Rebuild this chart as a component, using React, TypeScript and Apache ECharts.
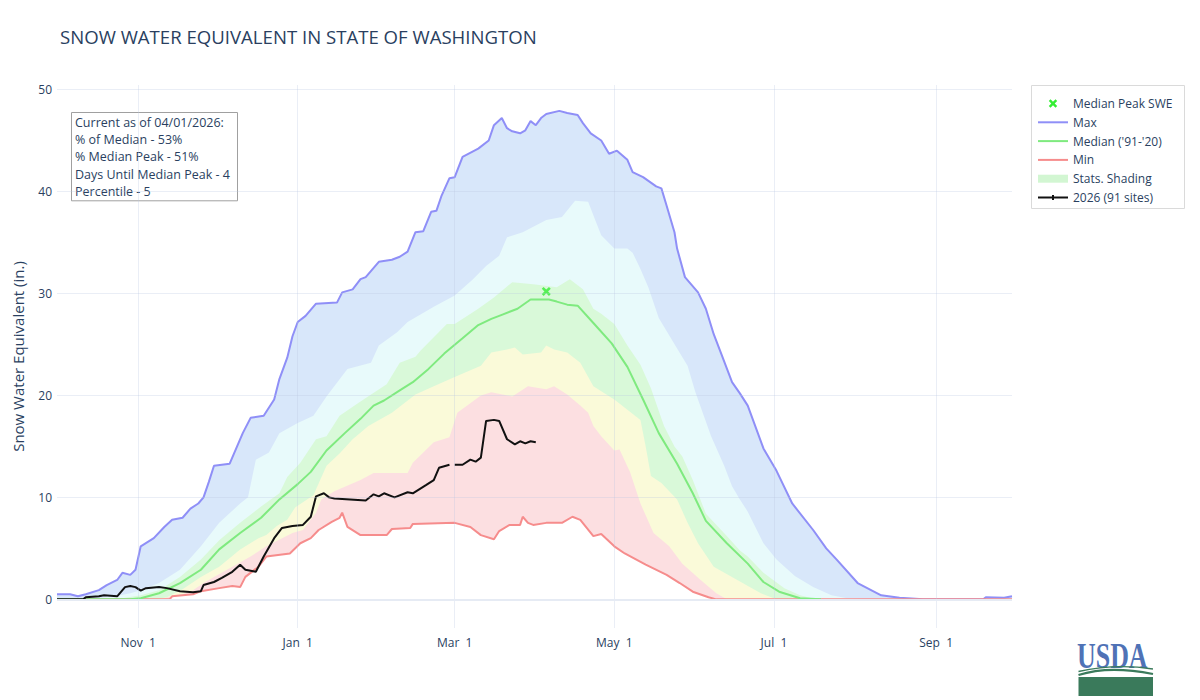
import React, { useEffect, useRef } from "react";
import * as echarts from "echarts";

// ---------- texts ----------
const TITLE = "SNOW WATER EQUIVALENT IN STATE OF WASHINGTON";
const Y_TITLE = "Snow Water Equivalent (in.)";
const ANNOTATION_LINES = [
  "Current as of 04/01/2026:",
  "% of Median - 53%",
  "% Median Peak - 51%",
  "Days Until Median Peak - 4",
  "Percentile - 5",
];
const LEGEND_LABELS = ["Median Peak SWE", "Max", "Median ('91-'20)", "Min", "Stats. Shading", "2026 (91 sites)"];

// ---------- x axis (water year, day-of-year incl. Feb 29) ----------
const MONTHS = ["Oct", "Nov", "Dec", "Jan", "Feb", "Mar", "Apr", "May", "Jun", "Jul", "Aug", "Sep"];
const MONTH_DAYS = [31, 30, 31, 31, 29, 31, 30, 31, 30, 31, 31, 30];
const X_TICK_CATEGORIES = ["Nov 1", "Jan 1", "Mar 1", "May 1", "Jul 1", "Sep 1"];
const X_TICK_LABELS = ["Nov  1", "Jan  1", "Mar  1", "May  1", "Jul  1", "Sep  1"];
const Y_TICKS = [0, 10, 20, 30, 40, 50];

// ---------- data: [day index from Oct 1, SWE inches] ----------
const MAX_SWE = [[0,0.5],[5,0.5],[8,0.3],[11,0.5],[16,0.9],[19,1.4],[23,1.9],[25,2.6],[28,2.4],[30,2.9],[32,5.2],[37,6.0],[41,7.1],[44,7.8],[48,8.0],[51,8.9],[54,9.4],[56,10.0],[58,11.5],[60,13.1],[66,13.3],[71,16.3],[74,17.8],[79,18.0],[83,19.6],[85,21.6],[88,23.7],[90,25.8],[92,27.2],[95,27.8],[99,29.0],[107,29.1],[109,30.1],[113,30.4],[116,31.4],[118,31.6],[123,33.1],[128,33.3],[131,33.6],[134,34.1],[137,36.0],[140,36.1],[143,38.0],[145,38.1],[147,39.6],[150,41.3],[152,41.4],[155,43.4],[161,44.2],[165,45.0],[167,46.5],[170,47.2],[172,46.2],[174,45.9],[177,45.7],[179,46.0],[181,46.9],[183,46.5],[185,47.2],[187,47.6],[192,47.9],[195,47.7],[199,47.5],[201,46.7],[204,45.7],[208,45.0],[211,43.7],[214,44.0],[218,43.1],[220,41.9],[224,41.4],[229,40.5],[231,40.3],[233,38.6],[236,36.0],[237,34.4],[240,31.6],[245,30.1],[248,28.5],[251,26.0],[254,24.0],[258,21.3],[261,20.2],[264,19.0],[270,14.8],[275,12.6],[281,9.4],[289,6.8],[294,5.0],[298,3.9],[306,1.6],[315,0.4],[322,0.15],[331,0],[354,0],[355,0.2],[362,0.15],[365,0.3]];

const P90_SWE = [[0,0.05],[15,0.1],[22,0.3],[28,0.6],[32,0.9],[39,1.6],[47,2.9],[55,5.2],[62,7.5],[70,9.4],[73,10.0],[76,13.7],[81,14.4],[85,16.3],[92,17.3],[98,18.0],[103,19.9],[111,22.6],[120,23.2],[123,24.9],[130,26.2],[134,27.2],[144,28.7],[152,29.8],[159,31.4],[164,32.7],[169,33.7],[172,35.5],[178,36.0],[187,37.2],[193,37.5],[198,39.1],[203,39.0],[206,37.0],[208,35.7],[213,34.4],[218,34.4],[220,34.0],[223,32.4],[226,30.6],[230,27.6],[237,24.6],[241,22.9],[244,20.3],[250,16.0],[255,13.1],[258,11.1],[261,9.8],[264,8.6],[270,5.5],[275,3.9],[282,2.3],[289,1.2],[296,0.4],[302,0.1],[310,0]];

const P70_SWE = [[0,0],[25,0.1],[32,0.4],[39,0.9],[47,2.2],[55,3.9],[62,5.8],[70,7.5],[78,9.1],[85,10.4],[88,12.0],[93,13.4],[99,15.7],[103,16.0],[108,18.0],[116,19.4],[126,21.1],[131,23.2],[137,23.8],[139,24.4],[149,27.0],[152,27.0],[161,28.5],[167,29.6],[174,31.1],[182,30.9],[191,30.6],[196,31.4],[201,30.4],[205,28.5],[208,28.0],[213,27.0],[218,24.9],[223,23.0],[227,20.7],[232,17.0],[236,15.0],[239,14.0],[243,11.7],[248,8.4],[256,6.2],[261,4.8],[264,4.2],[270,2.6],[278,1.1],[284,0.4],[290,0]];

const MEDIAN_SWE = [[0,0],[28,0],[32,0.1],[39,0.6],[47,1.6],[55,2.9],[62,4.9],[70,6.5],[78,8.0],[85,9.8],[92,11.3],[97,12.5],[103,14.6],[110,16.3],[116,17.7],[121,19.0],[125,19.5],[131,20.5],[136,21.3],[142,22.6],[148,24.1],[155,25.6],[161,26.9],[166,27.5],[170,27.9],[176,28.5],[181,29.4],[188,29.4],[191,29.2],[195,28.9],[199,28.8],[205,27.1],[212,25.1],[218,22.8],[224,19.6],[230,16.3],[237,13.3],[243,10.4],[248,7.7],[256,5.5],[264,3.5],[270,1.7],[276,0.75],[284,0.1],[292,0]];

const P30_SWE = [[0,0],[38,0],[42,0.2],[48,1.0],[55,2.2],[62,3.2],[70,4.9],[77,6.0],[80,6.3],[84,7.2],[88,7.8],[91,9.0],[98,10.2],[103,13.1],[108,14.3],[113,15.7],[119,17.0],[128,18.3],[137,20.1],[144,20.9],[152,21.8],[162,22.9],[166,24.2],[172,24.5],[175,24.7],[178,24.0],[185,24.2],[187,24.9],[190,24.5],[195,24.2],[200,23.2],[205,20.9],[213,19.6],[218,18.6],[223,17.6],[225,15.0],[227,12.1],[231,11.4],[237,9.8],[241,7.5],[245,5.5],[251,3.2],[260,1.9],[269,0.6],[275,0]];

const P10_SWE = [[0,0],[40,0],[44,0.35],[48,0.5],[52,0.9],[56,1.6],[60,2.2],[67,3.2],[74,4.2],[80,5.2],[90,6.5],[94,6.8],[99,8.5],[101,9.8],[106,10.6],[116,11.7],[121,12.4],[134,12.4],[136,13.4],[144,15.4],[150,15.9],[153,18.3],[162,20.0],[166,20.3],[174,19.9],[180,20.9],[187,20.6],[190,20.9],[195,20.1],[200,19.0],[203,18.3],[205,17.0],[208,16.0],[213,14.6],[215,14.7],[219,12.5],[223,9.4],[228,6.5],[234,5.2],[239,3.5],[246,1.9],[252,0.6],[256,0]];

const MIN_SWE = [[0,0],[43,0],[44,0.3],[48,0.4],[52,0.5],[55,0.8],[62,1.1],[67,1.3],[70,1.2],[72,2.2],[77,3.2],[80,4.2],[89,4.5],[93,5.5],[97,6.0],[100,6.8],[105,7.6],[108,8.0],[109,8.5],[111,7.1],[116,6.3],[126,6.3],[128,6.9],[135,7.0],[136,7.4],[152,7.5],[158,7.1],[162,6.3],[167,5.9],[169,6.7],[173,7.3],[177,7.3],[178,8.1],[180,7.5],[182,7.3],[187,7.5],[193,7.5],[197,8.1],[200,7.8],[205,6.2],[208,6.4],[213,5.2],[217,4.5],[225,3.4],[233,2.4],[238,1.6],[243,0.75],[249,0.2],[252,0],[365,0]];

const CURRENT_SWE = [[0,0],[10,0],[11,0.2],[16,0.3],[18,0.4],[23,0.3],[26,1.2],[28,1.3],[30,1.2],[32,0.85],[34,1.1],[39,1.2],[42,1.1],[47,0.8],[52,0.7],[55,0.8],[56,1.4],[60,1.7],[63,2.1],[67,2.7],[70,3.4],[72,2.9],[76,2.7],[79,4.2],[83,6.0],[86,7.0],[90,7.2],[94,7.3],[97,8.1],[99,10.1],[102,10.4],[104,10.0],[106,9.9],[118,9.7],[121,10.3],[123,10.1],[125,10.4],[129,10.0],[134,10.5],[136,10.4],[141,11.2],[144,11.7],[146,12.9],[150,13.2],[151,null],[152,13.2],[155,13.2],[158,13.7],[160,13.5],[162,13.9],[164,17.5],[167,17.6],[169,17.5],[172,15.7],[175,15.2],[177,15.5],[179,15.3],[181,15.5],[183,15.4]];

const MEDIAN_PEAK = [[187, 30.2]];

// ---------- styles ----------
const FONT = '"Open Sans", verdana, arial, sans-serif';
const TEXT_COLOR = "#2a3f5f";
const COLORS = {
  max: "#8F8FF7",
  median: "#7FEA7F",
  min: "#F68C8C",
  current: "#111111",
  peak: "#33EE33",
  blueBand: "#D8E7FA",
  cyanBand: "#E8FAFB",
  greenBand: "#D9F9D9",
  yellowBand: "#FAFAD9",
  redBand: "#FCDFE1",
  legendShade: "#D2F6D2",
};
const X_POLY = [[-3,-1.8],[-1.8,-3],[0,-1.2],[1.8,-3],[3,-1.8],[1.2,0],[3,1.8],[1.8,3],[0,1.2],[-1.8,3],[-3,1.8],[-1.2,0]];
const X_SYMBOL = "path://M" + X_POLY.map((p) => p.join(",")).join("L") + "Z";

const categories: string[] = [];
MONTHS.forEach((m, i) => {
  for (let d = 1; d <= MONTH_DAYS[i]; d++) categories.push(`${m} ${d}`);
});

function isTick(_idx: number, value: string) {
  return X_TICK_CATEGORIES.indexOf(value) >= 0;
}

function band(name: string, data: any[], fill: string, lineColor?: string) {
  return {
    type: "line",
    name,
    data,
    symbol: "none",
    silent: true,
    z: 2,
    lineStyle: lineColor ? { color: lineColor, width: 2 } : { width: 0, opacity: 0 },
    areaStyle: { color: fill, opacity: 1 },
  };
}

function buildOption() {
  const legendTop = 85.5;
  const rowY = LEGEND_LABELS.map((_, i) => 103.5 + 18.8 * i);
  const iconX1 = 1038;
  const iconX2 = 1068;
  const textX = 1073;
  const legendEls: any[] = [
    {
      type: "rect",
      shape: { x: 1031.5, y: legendTop, width: 153, height: 123 },
      style: { fill: "#ffffff", stroke: "#DADADA", lineWidth: 1 },
    },
    {
      type: "polygon",
      x: 1053,
      y: rowY[0],
      scaleX: 1.4,
      scaleY: 1.4,
      shape: { points: X_POLY },
      style: { fill: COLORS.peak },
    },
    { type: "line", shape: { x1: iconX1, y1: rowY[1], x2: iconX2, y2: rowY[1] }, style: { stroke: COLORS.max, lineWidth: 2 } },
    { type: "line", shape: { x1: iconX1, y1: rowY[2], x2: iconX2, y2: rowY[2] }, style: { stroke: COLORS.median, lineWidth: 2 } },
    { type: "line", shape: { x1: iconX1, y1: rowY[3], x2: iconX2, y2: rowY[3] }, style: { stroke: COLORS.min, lineWidth: 2 } },
    { type: "rect", shape: { x: iconX1, y: rowY[4] - 4, width: 30, height: 8 }, style: { fill: COLORS.legendShade } },
    { type: "line", shape: { x1: iconX1, y1: rowY[5], x2: iconX2, y2: rowY[5] }, style: { stroke: COLORS.current, lineWidth: 2 } },
    { type: "rect", shape: { x: 1052, y: rowY[5] - 2.5, width: 2, height: 5 }, style: { fill: COLORS.current } },
  ];
  LEGEND_LABELS.forEach((label, i) => {
    legendEls.push({
      type: "text",
      x: textX,
      y: rowY[i],
      style: { text: label, fontSize: 12, fontFamily: FONT, fill: TEXT_COLOR, verticalAlign: "middle", align: "left" },
    });
  });

  const lineGap = 17.2;
  const firstLine = 122.5;
  const annotationChildren: any[] = [
    {
      type: "rect",
      shape: { x: 71.5, y: 112.5, width: 166, height: firstLine + lineGap * (ANNOTATION_LINES.length - 1) + 9.5 - 112.5 },
      style: { fill: "#ffffff", stroke: "#A0A0A0", lineWidth: 1 },
    },
  ];
  ANNOTATION_LINES.forEach((line, i) => {
    annotationChildren.push({
      type: "text",
      x: 75,
      y: firstLine + lineGap * i,
      style: {
        text: line,
        fontSize: 12.5,
        fontFamily: FONT,
        fill: TEXT_COLOR,
        align: "left",
        verticalAlign: "middle",
      },
    });
  });
  const annotation = { type: "group", z: 20, children: annotationChildren };

  const logo = {
    type: "group",
    z: 20,
    children: [
      {
        type: "text",
        x: 1077,
        y: 656,
        scaleX: 0.72,
        style: {
          text: "USDA",
          fontSize: 36,
          fontWeight: "bold",
          fontFamily: '"Liberation Serif", "DejaVu Serif", serif',
          fill: "#4F72B6",
          align: "left",
          verticalAlign: "middle",
        },
      },
      { type: "rect", shape: { x: 1078.5, y: 677, width: 74.5, height: 19 }, style: { fill: "#3A7A5B" } },
      {
        type: "bezierCurve",
        shape: { x1: 1078.5, y1: 675, cpx1: 1100, cpy1: 668, cpx2: 1128, cpy2: 669, x2: 1153, y2: 674 },
        style: { stroke: "#3A7A5B", lineWidth: 2.2, fill: null },
      },
      {
        type: "bezierCurve",
        shape: { x1: 1078.5, y1: 671.5, cpx1: 1103, cpy1: 666, cpx2: 1130, cpy2: 665.5, x2: 1153, y2: 669 },
        style: { stroke: "#3A7A5B", lineWidth: 1.4, fill: null },
      },
    ],
  };

  return {
    animation: false,
    backgroundColor: "#ffffff",
    textStyle: { fontFamily: FONT, color: TEXT_COLOR },
    title: {
      text: TITLE,
      left: 60,
      top: 26.5,
      padding: 0,
      textStyle: { fontFamily: FONT, fontSize: 18.6, fontWeight: "normal", color: TEXT_COLOR },
    },
    grid: { left: 57, right: 188, top: 85, bottom: 72, containLabel: false, outerBoundsMode: "none" },
    xAxis: {
      type: "category",
      data: categories,
      boundaryGap: false,
      z: 5,
      axisLine: { show: false },
      axisTick: { show: false },
      axisLabel: {
        interval: isTick,
        formatter: (v: string) => {
          const k = X_TICK_CATEGORIES.indexOf(v);
          return k >= 0 ? X_TICK_LABELS[k] : "";
        },
        fontSize: 12,
        fontFamily: FONT,
        color: TEXT_COLOR,
        margin: 8,
      },
      splitLine: { show: true, interval: isTick, lineStyle: { color: "rgba(185,198,225,0.3)", width: 1 } },
    },
    yAxis: {
      type: "value",
      min: -2.81,
      max: 50.44,
      splitNumber: 5,
      z: 5,
      name: Y_TITLE,
      nameLocation: "middle",
      nameGap: 32,
      nameTextStyle: { fontFamily: FONT, fontSize: 15, color: TEXT_COLOR },
      axisLine: { show: false },
      axisTick: { show: false },
      axisLabel: {
        showMinLabel: false,
        showMaxLabel: false,
        formatter: (v: number) => (Y_TICKS.indexOf(v) >= 0 ? String(v) : ""),
        fontSize: 12,
        fontFamily: FONT,
        color: TEXT_COLOR,
        margin: 5,
      },
      splitLine: {
        show: true,
        showMinLine: false,
        showMaxLine: false,
        lineStyle: { color: "rgba(185,198,225,0.3)", width: 1 },
      },
    },
    series: [
      band("Max", MAX_SWE, COLORS.blueBand, COLORS.max),
      band("90th", P90_SWE, COLORS.cyanBand),
      band("70th", P70_SWE, COLORS.greenBand),
      band("30th", P30_SWE, COLORS.yellowBand),
      band("10th", P10_SWE, COLORS.redBand),
      {
        ...band("Min", MIN_SWE, "#ffffff", COLORS.min),
        markLine: {
          silent: true,
          symbol: "none",
          label: { show: false },
          lineStyle: { color: "#E6EBF4", width: 2, type: "solid" },
          data: [{ yAxis: 0 }],
        },
      },
      {
        type: "line",
        name: "Median ('91-'20)",
        data: MEDIAN_SWE,
        symbol: "none",
        silent: true,
        z: 3,
        lineStyle: { color: COLORS.median, width: 2 },
      },
      {
        type: "line",
        name: "2026 (91 sites)",
        data: CURRENT_SWE,
        symbol: "none",
        silent: true,
        z: 4,
        connectNulls: false,
        lineStyle: { color: COLORS.current, width: 2 },
      },
      {
        type: "scatter",
        name: "Median Peak SWE",
        data: MEDIAN_PEAK,
        symbol: X_SYMBOL,
        symbolSize: 9,
        silent: true,
        z: 4,
        itemStyle: { color: COLORS.peak },
      },
    ],
    graphic: { elements: [...legendEls.map((e) => ({ ...e, z: 20 })), annotation, logo] },
  };
}

export default function App() {
  const ref = useRef<HTMLDivElement>(null);
  useEffect(() => {
    if (!ref.current) return;
    const chart = echarts.init(ref.current, null, { renderer: "svg" });
    chart.setOption(buildOption() as any);
    return () => chart.dispose();
  }, []);
  return (
    <div
      ref={ref}
      style={{ position: "fixed", left: 0, top: 0, width: 1200, height: 700, background: "#ffffff" }}
    />
  );
}
